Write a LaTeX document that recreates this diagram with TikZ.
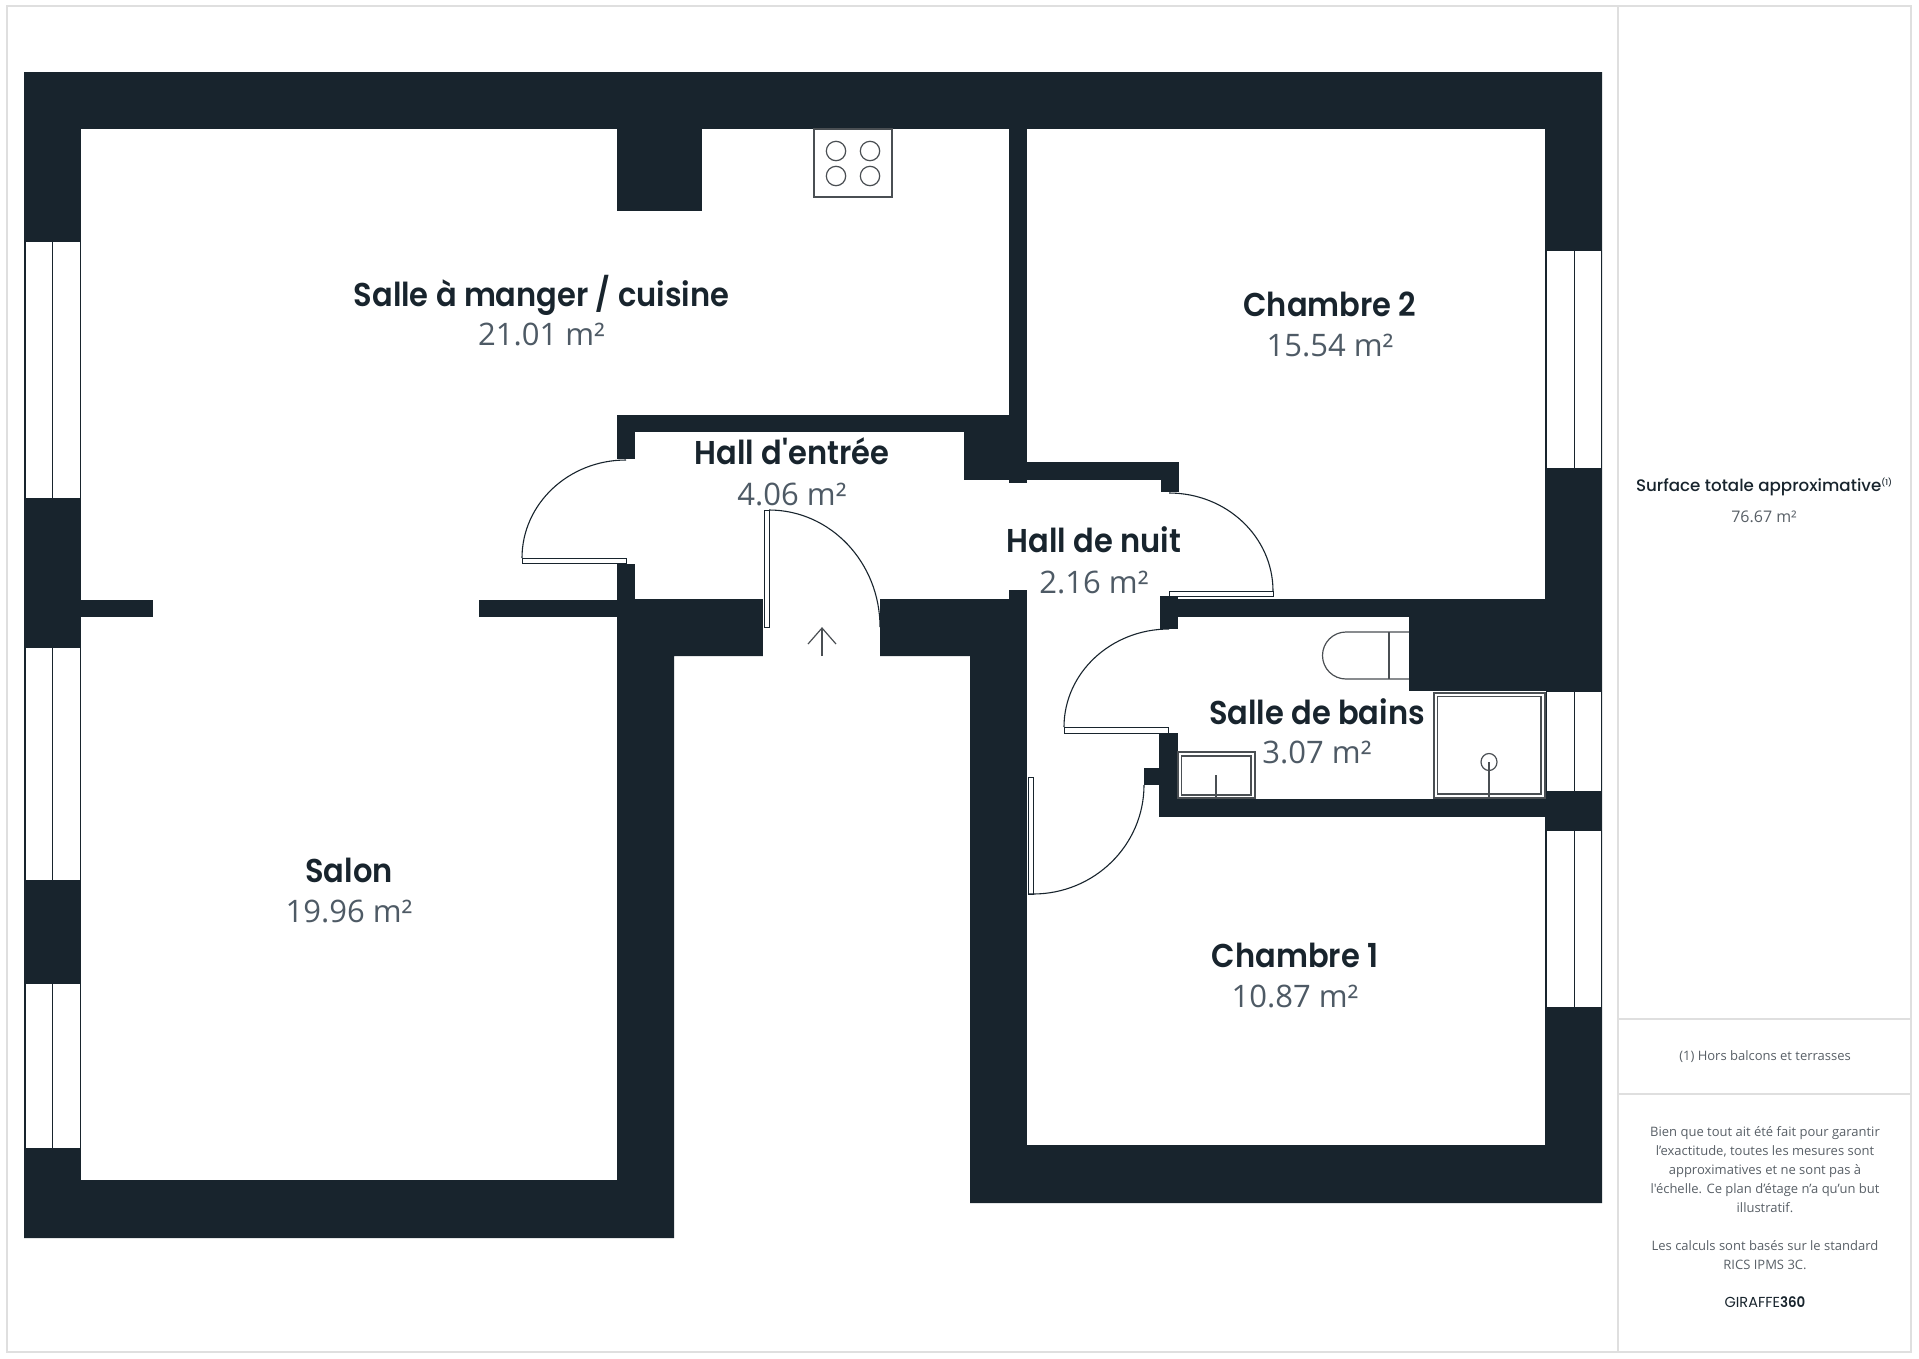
\documentclass[tikz,border=0pt]{standalone}
\usepackage{fontspec}
\newfontfamily\headfont{Poppins SemiBold}[FakeStretch=0.925]
\newfontfamily\headreg{Poppins}
\newfontfamily\headmed{Poppins Medium}
\newfontfamily\bodyfont{Open Sans}
\definecolor{wall}{HTML}{18242D}
\definecolor{areagrey}{HTML}{4E5A65}
\definecolor{notegrey}{HTML}{585F66}
\definecolor{framegrey}{HTML}{DFDFDF}
\definecolor{fixture}{HTML}{4A4F53}
\tikzset{
  wallfill/.style={fill=wall,draw=none},
  roomfill/.style={fill=white,draw=none},
  leaf/.style={fill=white,draw=wall,line width=1pt},
  swing/.style={draw=wall,line width=1.1pt},
  pane/.style={fill=white,draw=wall,line width=0.9pt},
  fixt/.style={draw=fixture,line width=1.2pt},
  framel/.style={draw=framegrey,line width=1.5pt},
  roomname/.style={anchor=base,inner sep=0pt,text=wall,font=\headfont\fontsize{33}{33}\selectfont},
  roomarea/.style={anchor=base,inner sep=0pt,text=areagrey,font=\bodyfont\fontsize{31}{31}\selectfont},
  sidenote/.style={inner sep=0pt,text=notegrey,font=\bodyfont\fontsize{13}{19}\selectfont},
}
\begin{document}
\begin{tikzpicture}[x=1pt,y=-1pt]
\useasboundingbox (0,0) rectangle (1919,1358);
% sheet frame
\draw[framel] (7,6) rectangle (1911,1352);
\draw[framel] (1618,6) -- (1618,1352);
\draw[framel] (1618,1019) -- (1911,1019);
\draw[framel] (1618,1094) -- (1911,1094);
% building silhouette
\fill[wallfill] (24,72) -- (1602,72) -- (1602,1203) -- (970,1203) -- (970,656) -- (880,656) -- (880,599)
  -- (763,599) -- (763,656) -- (674,656) -- (674,1238) -- (24,1238) -- cycle;
% rooms
\fill[roomfill] (81,129) rectangle (617,1180);
\fill[roomfill] (610,129) rectangle (1009,415);
\fill[roomfill] (610,459) rectangle (640,564);
\fill[roomfill] (635,432) rectangle (1178,599);
\fill[roomfill] (1027,129) rectangle (1545,599);
\fill[roomfill] (1027,590) rectangle (1178,1145);
\fill[roomfill] (1170,617) rectangle (1546,799);
\fill[roomfill] (1027,817) rectangle (1545,1145);
\fill[roomfill] (763,590) rectangle (880,657);
% walls over the rooms
\fill[wallfill] (617,129) rectangle (702,211);
\fill[wallfill] (81,599.5) rectangle (153,617);
\fill[wallfill] (479,599.5) rectangle (625,617);
\fill[wallfill] (617,564) rectangle (635,610);
\fill[wallfill] (635,599) rectangle (763,610);
\fill[wallfill] (880,599) rectangle (1009,610);
\fill[wallfill] (964,432) rectangle (1027,480);
\fill[wallfill] (1009,470) rectangle (1027,483);
\fill[wallfill] (1009,590) rectangle (1027,610);
\fill[wallfill] (1027,462) rectangle (1179,480);
\fill[wallfill] (1161,475) rectangle (1179,492);
\fill[wallfill] (1160,596) rectangle (1178,629);
\fill[wallfill] (1170,599) rectangle (1546,617);
\fill[wallfill] (1159,733) rectangle (1178,817);
\fill[wallfill] (1144,768) rectangle (1165,785);
\fill[wallfill] (1159,799) rectangle (1546,817);
\fill[wallfill] (1409,610) rectangle (1546,691);
% windows
\foreach \a/\b in {241/498.5,647/880,983/1148}{
  \filldraw[pane] (25,\a) rectangle (80,\b);
  \draw[pane] (52.5,\a) -- (52.5,\b);
}
\foreach \a/\b in {250/468,691/791,830/1007.5}{
  \filldraw[pane] (1546,\a) rectangle (1601,\b);
  \draw[pane] (1574,\a) -- (1574,\b);
}
% doors
\filldraw[leaf] (522,558) rectangle (626,563);
\draw[swing] (626,460) arc[start angle=270,end angle=180,x radius=104,y radius=98];
\filldraw[leaf] (764,510) rectangle (769,627);
\draw[swing] (769,510) arc[start angle=270,end angle=360,x radius=111,y radius=117];
\filldraw[leaf] (1169,591) rectangle (1273,596);
\draw[swing] (1169,493) arc[start angle=270,end angle=360,x radius=104,y radius=98];
\filldraw[leaf] (1064,727) rectangle (1168,733);
\draw[swing] (1169,629) arc[start angle=270,end angle=180,x radius=105,y radius=98];
\filldraw[leaf] (1028,777) rectangle (1033,894);
\draw[swing] (1028,894) -- (1033,894) arc[start angle=90,end angle=0,x radius=111,y radius=109];
% entrance arrow
\draw[fixt] (822,656) -- (822,628);
\draw[fixt] (808,644) -- (822,628) -- (836,644);
% hob
\draw[fixt] (814,129) rectangle (892,197);
\foreach \cx in {836,870}\foreach \cy in {151,176}{\draw[fixt] (\cx,\cy) circle[radius=9.7];}
% toilet
\draw[fixt] (1409,632) -- (1346,632) arc[start angle=270,end angle=90,radius=23.5] -- (1409,679);
\draw[fixt] (1389,632) -- (1389,679);
% basin
\draw[fixt] (1178,752) rectangle (1255,798);
\draw[fixt] (1181.5,756) rectangle (1251,795);
\draw[fixt] (1216,775) -- (1216,798);
% shower
\draw[fixt] (1434,693) rectangle (1545,798);
\draw[fixt] (1437.5,696.5) rectangle (1541,794);
\draw[fixt] (1489,762) circle[x radius=8,y radius=8.5];
\draw[fixt] (1489,762) -- (1489,798);
% room labels
\node[roomname] (n1) at (541.5,306) {Salle à manger / cuisine};
\node[roomarea] (a1) at (541.5,345.5) {21.01 m²};
\node[roomname] (n2) at (1330,316) {Chambre 2};
\node[roomarea] (a2) at (1330,356.5) {15.54 m²};
\node[roomname] (n3) at (792,464) {Hall d'entrée};
\node[roomarea] (a3) at (792,505) {4.06 m²};
\node[roomname] (n4) at (1094,552) {Hall de nuit};
\node[roomarea] (a4) at (1094,593) {2.16 m²};
\node[roomname] (n5) at (1317,724) {Salle de bains};
\node[roomarea] (a5) at (1317,763.5) {3.07 m²};
\node[roomname] (n6) at (349,882) {Salon};
\node[roomarea] (a6) at (349,922) {19.96 m²};
\node[roomname] (n7) at (1295,967) {Chambre 1};
\node[roomarea] (a7) at (1295,1007.5) {10.87 m²};
% side panel
\node[anchor=base,inner sep=0pt,text=wall,font=\headmed\fontsize{16.7}{18}\selectfont] (tot) at (1764,491)
  {Surface totale approximative\raisebox{6pt}{\fontsize{8}{8}\selectfont (1)}};
\node[anchor=base,inner sep=0pt,text=notegrey,font=\bodyfont\fontsize{16}{16}\selectfont] (totv) at (1764,522) {76.67 m²};
\node[sidenote] (hors) at (1765,1056.5) {(1) Hors balcons et terrasses};
\node[sidenote,align=center] (disc) at (1765,1198) {Bien que tout ait été fait pour garantir\\
l’exactitude, toutes les mesures sont\\
approximatives et ne sont pas à\\
l'échelle. Ce plan d’étage n’a qu’un but\\
illustratif.\\[19pt]
Les calculs sont basés sur le standard\\
RICS IPMS 3C.};
\node[inner sep=0pt,text=wall,font=\headreg\fontsize{14.5}{15}\selectfont] (brand) at (1765,1302) {GIRAFFE{\headfont 360}};
\end{tikzpicture}
\end{document}
